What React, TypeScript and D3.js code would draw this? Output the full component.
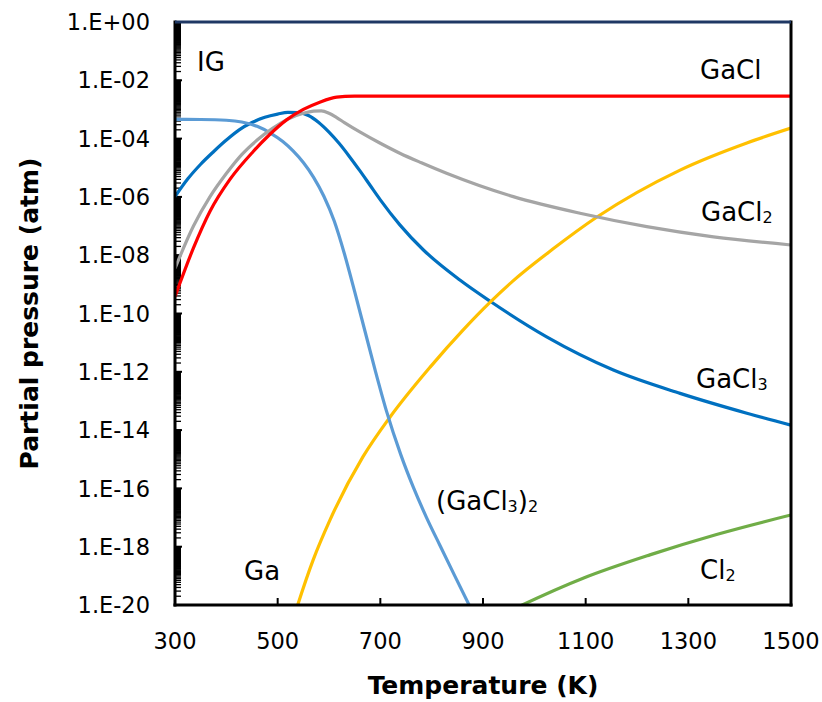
import React from "react";
import * as d3 from "d3";

// Temperature (K) and partial pressure (atm)
const igT = [300, 1500];
const igP = [1, 1];

const gaclT = [300, 336, 368, 407, 452, 485, 518, 550, 582, 615, 650, 690, 900, 1100, 1300, 1500];
const gaclP = [3.8e-10, 1.78e-8, 3.16e-7, 3.98e-6, 3.55e-5, 1.41e-4, 4.47e-4, 1.0e-3, 1.78e-3, 2.63e-3, 2.85e-3, 2.88e-3, 2.88e-3, 2.88e-3, 2.88e-3, 2.88e-3];

const gacl2T = [300, 336, 368, 400, 430, 460, 490, 520, 550, 570, 585, 600, 615, 630, 660, 699, 738, 780, 829, 959, 1089, 1219, 1349, 1500];
const gacl2P = [3.55e-9, 1.0e-7, 1.0e-6, 6.31e-6, 2.82e-5, 8.91e-5, 2.24e-4, 4.68e-4, 7.41e-4, 8.71e-4, 8.91e-4, 7.41e-4, 5.25e-4, 3.55e-4, 1.7e-4, 7.08e-5, 3.16e-5, 1.48e-5, 6.46e-6, 1.02e-6, 2.75e-7, 9.55e-8, 4.27e-8, 2.24e-8];

const gacl3T = [300, 325, 350, 375, 400, 425, 450, 475, 500, 520, 540, 560, 580, 600, 620, 640, 660, 680, 700, 738, 784, 855, 914, 1024, 1154, 1284, 1414, 1500];
const gacl3P = [1.02e-6, 4.17e-6, 1.32e-5, 3.55e-5, 8.91e-5, 2.0e-4, 3.55e-4, 5.37e-4, 6.92e-4, 7.94e-4, 7.76e-4, 6.17e-4, 3.55e-4, 1.66e-4, 6.76e-5, 2.4e-5, 7.94e-6, 2.51e-6, 7.94e-7, 1.1e-7, 1.51e-8, 1.41e-9, 2.63e-10, 1.58e-11, 1.15e-12, 1.82e-13, 3.8e-14, 1.48e-14];

const dimerT = [300, 350, 400, 430, 460, 485, 510, 530, 550, 570, 590, 610, 630, 650, 670, 690, 712, 740, 764, 790, 816, 845, 880];
const dimerP = [4.57e-4, 4.52e-4, 4.27e-4, 3.72e-4, 2.63e-4, 1.58e-4, 7.94e-5, 3.8e-5, 1.51e-5, 4.68e-6, 1.05e-6, 1.51e-7, 1.12e-8, 5.62e-10, 2.51e-11, 1.12e-12, 4.47e-14, 1.41e-15, 1.12e-16, 1.0e-17, 1.12e-18, 1.0e-19, 5.62e-21];

const gaT = [530, 537, 569, 602, 666, 719, 797, 861, 914, 958, 1036, 1122, 1284, 1414, 1500];
const gaP = [3.16e-21, 7.76e-21, 3.47e-19, 8.32e-18, 1.2e-15, 2.82e-14, 1.45e-12, 2.69e-11, 2.45e-10, 1.29e-9, 1.62e-8, 2.04e-7, 8.32e-6, 7.08e-5, 2.29e-4];

const cl2T = [943, 969, 1095, 1225, 1355, 1500];
const cl2P = [5.25e-21, 8.71e-21, 8.32e-20, 5.25e-19, 2.63e-18, 1.23e-17];

const xTicks = [300, 500, 700, 900, 1100, 1300, 1500];
const yTickLabels = ["1.E+00", "1.E-02", "1.E-04", "1.E-06", "1.E-08", "1.E-10", "1.E-12", "1.E-14", "1.E-16", "1.E-18", "1.E-20"];
const yTickValues = [1, 1e-2, 1e-4, 1e-6, 1e-8, 1e-10, 1e-12, 1e-14, 1e-16, 1e-18, 1e-20];

const W = 822, H = 702;
const L = 175, R = 791, T = 22, B = 605;

const series = [
  { name: "GaCl3", t: gacl3T, p: gacl3P, color: "#0070C0" },
  { name: "Cl2", t: cl2T, p: cl2P, color: "#70AD47" },
  { name: "Ga", t: gaT, p: gaP, color: "#FFC000" },
  { name: "(GaCl3)2", t: dimerT, p: dimerP, color: "#5B9BD5" },
  { name: "GaCl2", t: gacl2T, p: gacl2P, color: "#A5A5A5" },
  { name: "GaCl", t: gaclT, p: gaclP, color: "#FF0000" },
];

export default function App() {
  const x = d3.scaleLinear().domain([300, 1500]).range([L, R]);
  const y = d3.scaleLog().domain([1e-20, 1]).range([B, T]);
  const line = d3
    .line<[number, number]>()
    .x((d) => x(d[0]))
    .y((d) => y(d[1]))
    .curve(d3.curveMonotoneX);

  // minor ticks: m x 10^k within each 2-decade interval
  const minor: number[] = [];
  for (let k = -20; k < 0; k += 2) {
    for (let m = 2; m <= 99; m++) minor.push(m * Math.pow(10, k));
  }

  const font = "'DejaVu Sans', Verdana, sans-serif";
  const lab = { fontFamily: font, fontSize: 26, fill: "#000" } as const;
  const sub = { fontSize: 16 };

  return (
    <svg width={W} height={H} style={{ position: "absolute", left: 0, top: 0, background: "#fff" }}>
      <defs>
        <clipPath id="plot">
          <rect x={L} y={T - 2} width={R - L} height={B - T + 2} />
        </clipPath>
      </defs>
      <rect x={0} y={0} width={W} height={H} fill="#fff" />

      {/* minor y ticks */}
      {minor.map((v, i) => (
        <line key={"m" + i} x1={L} x2={L + 6} y1={y(v)} y2={y(v)} stroke="#000" strokeWidth={1.3} />
      ))}
      {yTickValues.map((v, i) => (
        <line key={"M" + i} x1={L} x2={L + 7} y1={y(v)} y2={y(v)} stroke="#000" strokeWidth={2} />
      ))}
      {xTicks.slice(1, -1).map((t) => (
        <line key={"xt" + t} x1={x(t)} x2={x(t)} y1={B} y2={B - 7} stroke="#000" strokeWidth={2} />
      ))}

      {/* data */}
      <g clipPath="url(#plot)" fill="none" strokeWidth={3.2} strokeLinejoin="round">
        {series.map((s) => (
          <path
            key={s.name}
            d={line(s.t.map((t, i) => [t, s.p[i]] as [number, number])) || ""}
            stroke={s.color}
          />
        ))}
      </g>

      {/* frame */}
      <line x1={L} x2={L} y1={T - 1.5} y2={B + 1.5} stroke="#000" strokeWidth={3} />
      <line x1={L - 1.5} x2={R + 1.5} y1={B} y2={B} stroke="#000" strokeWidth={3} />
      <line x1={R} x2={R} y1={T - 1.5} y2={B + 1.5} stroke="#000" strokeWidth={3} />
      <path
        d={line(igT.map((t, i) => [t, igP[i]] as [number, number])) || ""}
        stroke="#1F3864"
        strokeWidth={3.2}
        fill="none"
      />

      {/* tick labels */}
      {yTickValues.map((v, i) => (
        <text key={"yl" + i} x={150} y={y(v)} dy="0.36em" textAnchor="end" fontFamily={font} fontSize={22.5}>
          {yTickLabels[i]}
        </text>
      ))}
      {xTicks.map((t) => (
        <text key={"xl" + t} x={x(t)} y={649} textAnchor="middle" fontFamily={font} fontSize={22.5}>
          {t}
        </text>
      ))}

      {/* axis titles */}
      <text x={(L + R) / 2} y={694} textAnchor="middle" fontFamily={font} fontSize={25} fontWeight="bold">
        Temperature (K)
      </text>
      <text
        transform={`translate(38, ${(T + B) / 2}) rotate(-90)`}
        textAnchor="middle"
        fontFamily={font}
        fontSize={25}
        fontWeight="bold"
      >
        Partial pressure (atm)
      </text>

      {/* series labels */}
      <text x={197} y={71} {...lab}>IG</text>
      <text x={700} y={79} {...lab}>GaCl</text>
      <text x={701} y={221} {...lab}>
        GaCl<tspan {...sub} dy={2}>2</tspan>
      </text>
      <text x={696} y={388} {...lab}>
        GaCl<tspan {...sub} dy={2}>3</tspan>
      </text>
      <text x={436} y={510} {...lab}>
        (GaCl<tspan {...sub} dy={2}>3</tspan>
        <tspan dy={-2}>)</tspan>
        <tspan {...sub} dy={2}>2</tspan>
      </text>
      <text x={244} y={580} {...lab}>Ga</text>
      <text x={700} y={579} {...lab}>
        Cl<tspan {...sub} dy={2}>2</tspan>
      </text>
    </svg>
  );
}
